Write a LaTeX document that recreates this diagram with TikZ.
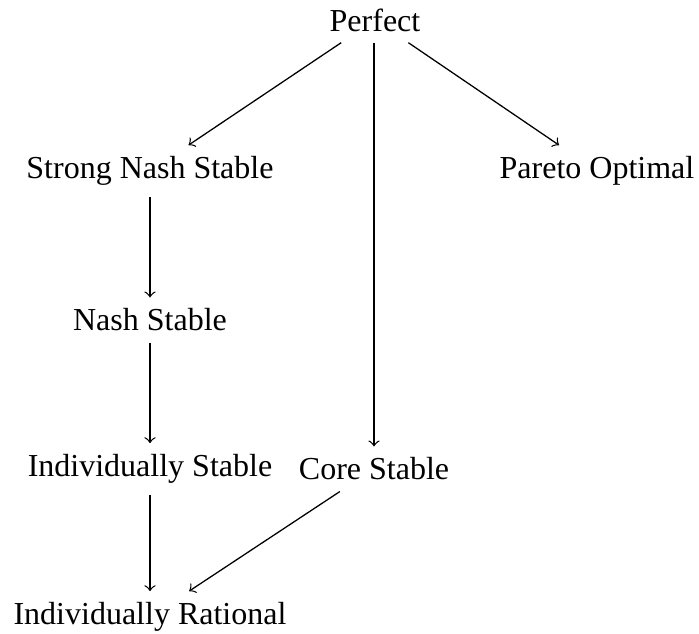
\documentclass[tikz,border=0pt]{standalone}
\usepackage{fontspec}
\setmainfont{Liberation Serif}
\begin{document}
\begin{tikzpicture}[x=0.3125pt,y=-0.3125pt,
  lab/.style={inner sep=0.3333em, font=\fontsize{10}{12}\selectfont},
  arr/.style={->, line width=0.4pt}]
\useasboundingbox (0,0) rectangle (699,634);
\node[lab] (P)   at (375,20)  {Perfect};
\node[lab] (SNS) at (150,171) {Strong Nash Stable};
\node[lab] (PO)  at (597,171) {Pareto Optimal};
\node[lab] (NS)  at (150,320) {Nash Stable};
\node[lab] (IS)  at (150,469) {Individually Stable};
\node[lab] (CS)  at (374,469) {Core Stable};
\node[lab] (IR)  at (150,617) {Individually Rational};
\draw[arr] (P) -- (SNS);
\draw[arr] (P) -- (PO);
\draw[arr] (P.south -| CS.north) -- (CS);
\draw[arr] (SNS) -- (NS);
\draw[arr] (NS) -- (IS);
\draw[arr] (IS) -- (IR);
\draw[arr] (CS) -- (IR);
\end{tikzpicture}
\end{document}
